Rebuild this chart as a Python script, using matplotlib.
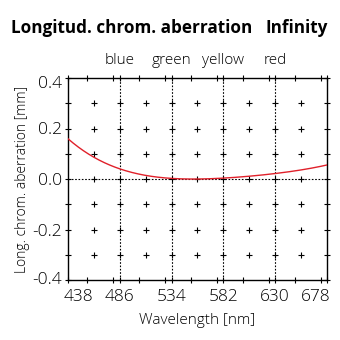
import matplotlib
matplotlib.use("Agg")
import matplotlib.pyplot as plt
import matplotlib.transforms as mtransforms
import numpy as np
from matplotlib.ticker import MultipleLocator

plt.rcParams["font.family"] = ["Open Sans", "DejaVu Sans"]
plt.rcParams["font.weight"] = "light"
plt.rcParams["axes.labelweight"] = "light"

# longitudinal chromatic aberration curve, focus at infinity
wavelength = [438, 462, 486, 510, 534, 558, 582, 606, 630, 654, 678]
aberration = [0.160, 0.085, 0.040, 0.015, 0.003, 0.000, 0.003, 0.010, 0.022, 0.037, 0.055]

color_names = ["blue", "green", "yellow", "red"]
color_lines = [486, 534, 582, 630]
x_labels = [438, 486, 534, 582, 630, 678]
y_labels = [-0.4, -0.2, 0.0, 0.2, 0.4]

fig = plt.figure(figsize=(3.4, 3.4), dpi=100)
ax = fig.add_axes([68 / 340, 60 / 340, 259 / 340, 202 / 340])

ax.set_xlim(438, 678)
ax.set_ylim(-0.4, 0.4)

# dotted reference lines at the named colours and at zero
for wl in color_lines:
    ax.axvline(wl, color="black", lw=0.8, ls=(0, (1.5, 1.5)), zorder=1)
ax.axhline(0.0, color="black", lw=0.8, ls=(0, (1.5, 1.5)), zorder=1)

# crosses at interior grid intersections
gx = np.arange(462, 678, 24)
gy = np.arange(-0.3, 0.31, 0.1)
GX, GY = np.meshgrid(gx, gy)
ax.plot(GX.ravel(), GY.ravel(), ls="none", marker="+", ms=5, mew=0.8,
        color="black", zorder=2)

# smooth curve through the sampled values
xs = np.linspace(438, 678, 200)
coef = np.polyfit(wavelength, aberration, 4)
ax.plot(xs, np.polyval(coef, xs), color="#e0202a", lw=1.0, zorder=3)

ax.set_xticks(x_labels)
ax.set_yticks(y_labels)
ax.set_yticklabels([f"{v:.1f}" for v in y_labels])
ax.xaxis.set_minor_locator(MultipleLocator(24))
ax.yaxis.set_minor_locator(MultipleLocator(0.1))
ax.tick_params(which="both", direction="inout", top=True, right=True,
               length=4.5, width=0.8, labelsize=12.5, colors="black")
ax.tick_params(axis="x", pad=4)
ax.tick_params(axis="y", pad=2)
for sp in ax.spines.values():
    sp.set_linewidth(1.0)

# pull the outermost tick labels inside the frame
def nudge(label, dx, dy):
    label.set_transform(label.get_transform() +
                        mtransforms.ScaledTranslation(dx / 100, dy / 100,
                                                      fig.dpi_scale_trans))

xt = ax.get_xticklabels()
nudge(xt[0], 10, 0)
nudge(xt[-1], -11, 0)
yt = ax.get_yticklabels()
nudge(yt[0], 0, 2)
nudge(yt[-1], 0, -4)

ax.set_xlabel("Wavelength [nm]", fontsize=11, labelpad=6)
ax.set_ylabel("Long. chrom. aberration [mm]", fontsize=10, labelpad=2)

for name, wl in zip(color_names, color_lines):
    ax.text(wl, 0.471, name, ha="center", va="center", fontsize=11)

fig.text(11 / 340, 1 - 28 / 340, "Longitud. chrom. aberration", fontsize=12.3,
         fontweight="bold", va="center", ha="left")
fig.text(328 / 340, 1 - 28 / 340, "Infinity", fontsize=12.3,
         fontweight="bold", va="center", ha="right")

fig.savefig("out.png", dpi=100)
